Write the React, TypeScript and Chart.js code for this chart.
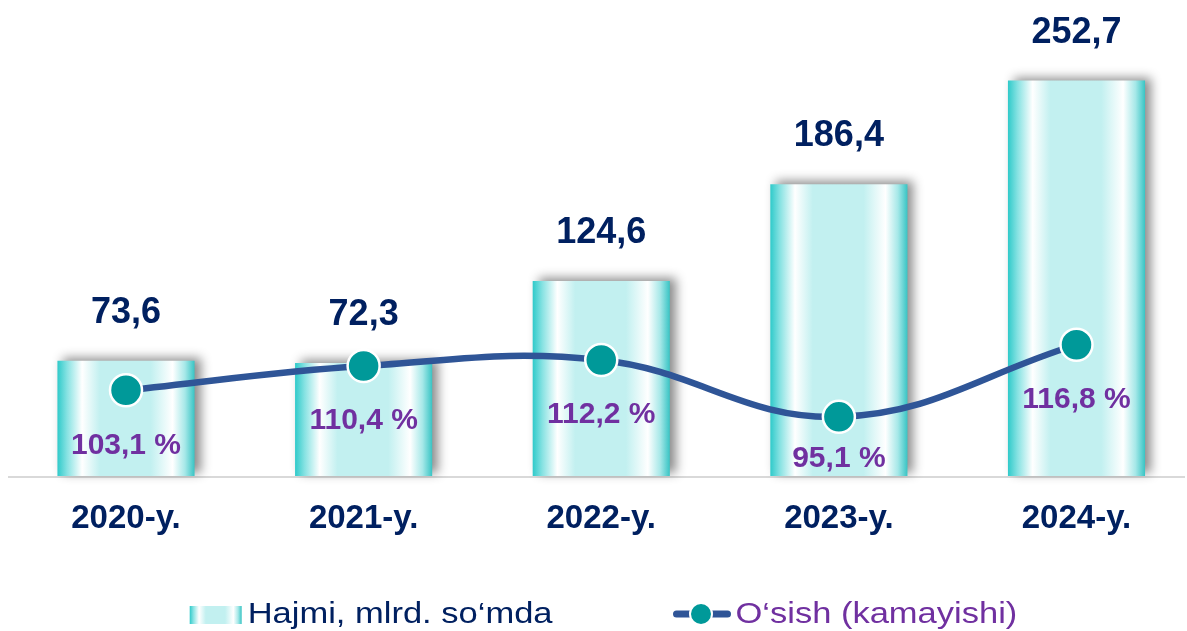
import React, { useEffect, useRef } from 'react';
import { Chart, registerables } from 'chart.js';

Chart.register(...registerables);

// ---- data ----
const categories = ['2020-y.', '2021-y.', '2022-y.', '2023-y.', '2024-y.'];
const volume = [73.6, 72.3, 124.6, 186.4, 252.7];
const growth = [103.1, 110.4, 112.2, 95.1, 116.8];
const legendLabels = ['Hajmi, mlrd. so‘mda', 'O‘sish (kamayishi)'];

// ---- styles ----
const FONT = '"Liberation Sans", Arial, sans-serif';
const NAVY = '#002060';
const PURPLE = '#7030A0';
const LINE_BLUE = '#2F5597';
const TEAL = '#009999';
const CAT_PCT = 0.577;

const fmt = (v: number) => v.toFixed(1).replace('.', ',');

function barGradient(ctx: CanvasRenderingContext2D, x0: number, x1: number) {
  const g = ctx.createLinearGradient(x0, 0, x1, 0);
  g.addColorStop(0, '#2FCACA');
  g.addColorStop(0.07, '#86E2E2');
  g.addColorStop(0.18, '#FFFFFF');
  g.addColorStop(0.31, '#C2F0F0');
  g.addColorStop(0.68, '#C2F0F0');
  g.addColorStop(0.84, '#FFFFFF');
  g.addColorStop(0.93, '#A6E8E8');
  g.addColorStop(1, '#38C4C4');
  return g;
}

const baselinePlugin = {
  id: 'baseline',
  beforeDatasetsDraw(chart: any) {
    const { ctx } = chart;
    const y0 = chart.scales.y.getPixelForValue(0);
    ctx.save();
    ctx.strokeStyle = '#D9D9D9';
    ctx.lineWidth = 2;
    ctx.beginPath();
    ctx.moveTo(8, y0 + 1);
    ctx.lineTo(chart.width - 2, y0 + 1);
    ctx.stroke();
    ctx.restore();
  },
};

const shadowPlugin = {
  id: 'barShadow',
  beforeDatasetDraw(chart: any, args: any) {
    if (args.index !== 0) return;
    const c = chart.ctx;
    c.save();
    c.shadowColor = 'rgba(0,0,0,0.45)';
    c.shadowBlur = 10;
    c.shadowOffsetX = 6;
    c.shadowOffsetY = -3;
  },
  afterDatasetDraw(chart: any, args: any) {
    if (args.index !== 0) return;
    chart.ctx.restore();
  },
};

const labelsPlugin = {
  id: 'valueLabels',
  afterDatasetsDraw(chart: any) {
    const { ctx } = chart;
    const bars = chart.getDatasetMeta(0).data;
    const pts = chart.getDatasetMeta(1).data;
    const base = chart.scales.y.getPixelForValue(0);
    ctx.save();
    ctx.textAlign = 'center';
    ctx.textBaseline = 'middle';
    ctx.font = `bold 36px ${FONT}`;
    ctx.fillStyle = NAVY;
    bars.forEach((b: any, i: number) => {
      ctx.fillText(fmt(volume[i]), b.x, b.y - 48);
    });
    ctx.font = `bold 30px ${FONT}`;
    ctx.fillStyle = PURPLE;
    pts.forEach((p: any, i: number) => {
      const y = Math.min(p.y + 55, base - 17);
      ctx.fillText(fmt(growth[i]) + ' %', bars[i].x, y);
    });
    ctx.restore();
  },
};

const legendPlugin = {
  id: 'customLegend',
  afterDraw(chart: any) {
    const { ctx } = chart;
    const sx = 1.15;
    const cy = chart.height - 17;
    ctx.save();
    ctx.font = `30px ${FONT}`;
    ctx.textBaseline = 'middle';
    ctx.textAlign = 'left';
    const w1 = ctx.measureText(legendLabels[0]).width * sx;
    const w2 = ctx.measureText(legendLabels[1]).width * sx;
    const icon1 = 52;
    const icon2 = 57;
    const total = icon1 + 6 + w1 + 121 + icon2 + 5 + w2;
    let x = (chart.width - total) / 2 + 10;

    // bar icon
    ctx.fillStyle = barGradient(ctx, x, x + icon1);
    ctx.fillRect(x, cy - 8, icon1, 18);
    x += icon1 + 6;
    ctx.fillStyle = NAVY;
    ctx.save();
    ctx.translate(x, cy + 1);
    ctx.scale(sx, 1);
    ctx.fillText(legendLabels[0], 0, 0);
    ctx.restore();
    x += w1 + 121;

    // line icon
    ctx.strokeStyle = LINE_BLUE;
    ctx.lineWidth = 7;
    ctx.lineCap = 'round';
    ctx.beginPath();
    ctx.moveTo(x + 3, cy);
    ctx.lineTo(x + icon2 - 3, cy);
    ctx.stroke();
    ctx.beginPath();
    ctx.arc(x + icon2 / 2 - 1, cy, 11, 0, Math.PI * 2);
    ctx.fillStyle = TEAL;
    ctx.fill();
    ctx.lineWidth = 2;
    ctx.strokeStyle = '#FFFFFF';
    ctx.stroke();
    x += icon2 + 5;
    ctx.fillStyle = PURPLE;
    ctx.save();
    ctx.translate(x, cy + 1);
    ctx.scale(sx, 1);
    ctx.fillText(legendLabels[1], 0, 0);
    ctx.restore();
    ctx.restore();
  },
};

export default function App() {
  const ref = useRef<HTMLCanvasElement | null>(null);

  useEffect(() => {
    if (!ref.current) return;
    const chart = new Chart(ref.current, {
      type: 'bar',
      data: {
        labels: categories,
        datasets: [
          {
            type: 'bar',
            label: legendLabels[0],
            data: volume,
            yAxisID: 'y',
            order: 1,
            borderWidth: 0,
            categoryPercentage: CAT_PCT,
            barPercentage: 1,
            clip: false as any,
            backgroundColor: (c: any) => {
              const chart = c.chart;
              const xs = chart.scales?.x;
              if (!xs || c.dataIndex === undefined || !chart.chartArea) return '#C2F0F0';
              const cx = xs.getPixelForValue(c.dataIndex);
              const w = (xs.getPixelForValue(1) - xs.getPixelForValue(0)) * CAT_PCT;
              return barGradient(chart.ctx, cx - w / 2, cx + w / 2);
            },
          } as any,
          {
            type: 'line',
            label: legendLabels[1],
            data: growth,
            yAxisID: 'y1',
            order: 0,
            borderColor: LINE_BLUE,
            borderWidth: 6.5,
            tension: 0.4,
            pointRadius: 16,
            pointHoverRadius: 16,
            pointBackgroundColor: TEAL,
            pointBorderColor: '#FFFFFF',
            pointBorderWidth: 2.5,
            clip: false as any,
          } as any,
        ],
      },
      options: {
        animation: false,
        responsive: true,
        maintainAspectRatio: false,
        layout: { padding: { left: 126, right: 110.5, top: 0, bottom: 69.4 } },
        plugins: {
          legend: { display: false },
          tooltip: { enabled: false },
        },
        scales: {
          x: {
            offset: false,
            grid: { display: false, drawTicks: false },
            border: { display: false },
            ticks: {
              color: NAVY,
              font: { family: FONT, size: 33, weight: 'bold' },
              padding: 23,
              maxRotation: 0,
              autoSkip: false,
            },
          },
          y: { display: false, min: 0, max: 292.4 },
          y1: { display: false, min: 77.3, max: 215.0 },
        },
      } as any,
      plugins: [baselinePlugin, shadowPlugin, labelsPlugin, legendPlugin],
    });
    return () => chart.destroy();
  }, []);

  return (
    <div style={{ position: 'absolute', left: 0, top: 0, width: 1187, height: 631, background: '#FFFFFF' }}>
      <canvas ref={ref} />
    </div>
  );
}
